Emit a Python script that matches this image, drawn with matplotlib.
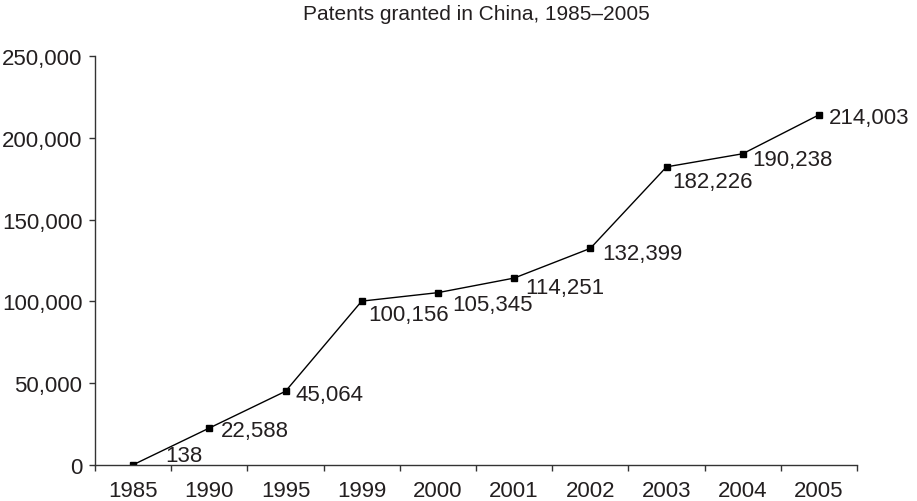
import numpy as np
import matplotlib.pyplot as plt
from matplotlib.ticker import FuncFormatter

plt.rcParams['font.family'] = ['Liberation Sans', 'DejaVu Sans']

# Patents granted per year
years = ["1985", "1990", "1995", "1999", "2000", "2001", "2002", "2003", "2004", "2005"]
patents = [138, 22588, 45064, 100156, 105345, 114251, 132399, 182226, 190238, 214003]

# label offsets (points) from each marker
label_dx = [23, 8.6, 7.5, 5, 10, 8, 8.6, 4.3, 6.5, 7]
label_dy = [7, -2, -2, -9.5, -8.6, -6.5, -3.6, -10.8, -4.3, -2]

text_col = "#231f20"

fig = plt.figure(figsize=(9.17, 5.02), dpi=100)
ax = fig.add_axes([0.1036, 0.0717, 0.831, 0.8148])

x = np.arange(len(years))
ax.plot(x, patents, color="black", linewidth=1.0, marker="s", markersize=5,
        markerfacecolor="black", markeredgecolor="black")

for xi, v, dx, dy in zip(x, patents, label_dx, label_dy):
    ax.annotate(f"{v:,}", (xi, v), xytext=(dx, dy), textcoords="offset points",
                ha="left", va="center", fontsize=16, color=text_col)

ax.set_xlim(-0.5, len(years) - 0.5)
ax.set_ylim(0, 250000)
ax.set_yticks(np.arange(0, 250001, 50000))
ax.yaxis.set_major_formatter(FuncFormatter(lambda v, p: f"{int(v):,}"))

# category labels centred, tick marks on the boundaries
ax.set_xticks(np.arange(-0.5, len(years), 1.0))
ax.set_xticklabels([])
ax.set_xticks(x, minor=True)
ax.set_xticklabels(years, minor=True)
ax.tick_params(axis="x", which="major", direction="out", length=4, width=1, color="#333333")
ax.tick_params(axis="x", which="minor", length=0, labelsize=16, labelcolor=text_col, pad=11)
ax.tick_params(axis="y", direction="out", length=4, width=1, color="#333333",
               labelsize=16, labelcolor=text_col, pad=5)

for side in ("top", "right"):
    ax.spines[side].set_visible(False)
for side in ("left", "bottom"):
    ax.spines[side].set_color("#333333")
    ax.spines[side].set_linewidth(1.0)

fig.text(0.52, 0.972, "Patents granted in China, 1985\u20132005", ha="center", va="center",
         fontsize=15, color=text_col)

fig.savefig("out.png", dpi=100)
